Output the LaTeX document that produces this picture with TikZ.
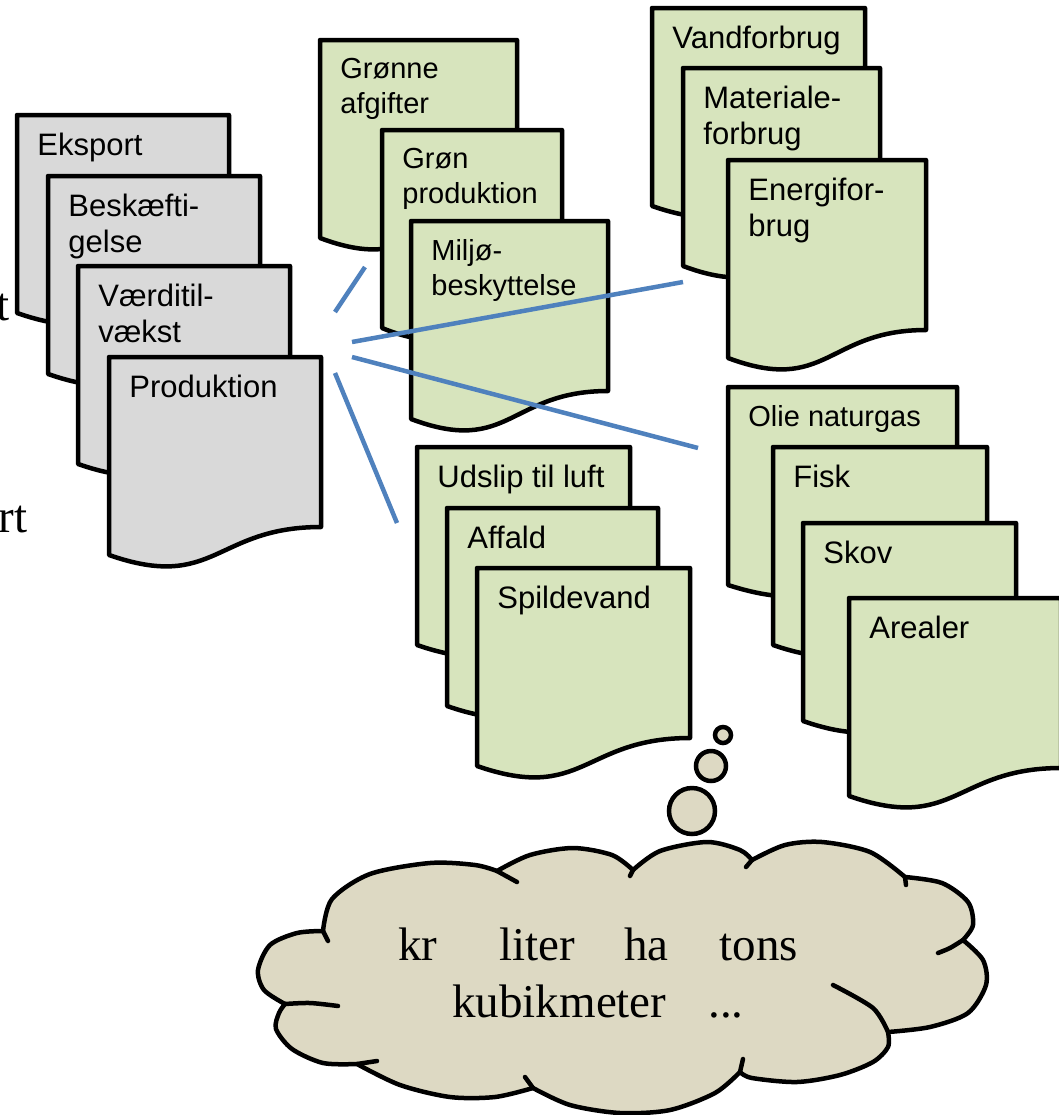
\documentclass[tikz,border=0pt]{standalone}
\usepackage{fontspec}
\setmainfont{Liberation Serif}
\setsansfont{Liberation Sans}
\definecolor{docgray}{HTML}{D9D9D9}
\definecolor{docgreen}{HTML}{D7E4BD}
\definecolor{cloudtan}{HTML}{DDD9C3}
\definecolor{linkblue}{HTML}{4F81BD}
\tikzset{
  doc/.style={draw=black,line width=2.25pt,line join=round},
  graydoc/.style={doc,fill=docgray},
  greendoc/.style={doc,fill=docgreen},
  doclabel/.style={anchor=north west,inner sep=0pt,align=left,font=\sffamily\fontsize{15.5}{18}\selectfont},
  fitlabel/.style={font=\sffamily\fontsize{14.5}{17.5}\selectfont},
  link/.style={linkblue,line width=2.25pt},
  cloudline/.style={draw=black,line width=2.25pt,line join=round,line cap=round},
  bubble/.style={draw=black,fill=cloudtan,line width=2.25pt},
  bigserif/.style={inner sep=0pt,font=\rmfamily\fontsize{23.5}{28}\selectfont}
}
% #1 label style, #2 shape style, #3 name, #4 left, #5 top, #6 width, #7 label
\newcommand{\docshape}[7][]{%
  \draw[#2] (#4,-#5) -- ({#4+#6},-#5) -- ({#4+#6},{-#5-170})
    .. controls ({#4+#6/2},{-#5-170}) and ({#4+#6/2},{-#5-235}) .. (#4,{-#5-198}) -- cycle;
  \node[doclabel,#1] (#3) at ({#4+20},{-#5-18}) {#7};}

\begin{document}
\begin{tikzpicture}[x=0.5pt,y=0.5pt]
    \useasboundingbox (0,0) rectangle (1059,-1115);
    % cut-off words at the left edge
    \node[bigserif,anchor=base east] (cutA) at (10,-320) {t};
    \node[bigserif,anchor=base east] (cutB) at (28,-532) {rt};
    % economy stack
    \foreach \nm/\x/\y/\txt in {eksport/17/115/Eksport,beskaeft/48/176/{Beskæfti-\\gelse},vaerdi/78/266/{Værditil-\\vækst},prod/109/357/Produktion}
        \docshape{graydoc}{\nm}{\x}{\y}{212}{\txt};
    % green stacks
    \foreach \nm/\x/\y/\w/\txt in {afgift/320/40/197/{Grønne\\afgifter},gronprod/382/130/180/{Grøn\\produktion},miljo/411/221/197/{Miljø-\\beskyttelse}}
        \docshape[fitlabel]{greendoc}{\nm}{\x}{\y}{\w}{\txt};
    \foreach \nm/\x/\y/\w/\txt in {vand/652/8/213/Vandforbrug,materiale/683/68/197/{Materiale-\\forbrug},energi/728/160/198/{Energifor-\\brug}}
        \docshape{greendoc}{\nm}{\x}{\y}{\w}{\txt};
    \foreach \nm/\x/\y/\w/\txt in {udslip/417/447/213/{Udslip til luft},affald/447/508/211/Affald,spilde/477/568/213/Spildevand}
        \docshape{greendoc}{\nm}{\x}{\y}{\w}{\txt};
    \docshape[fitlabel]{greendoc}{olie}{728}{387}{229}{Olie naturgas}
    \foreach \nm/\x/\y/\w/\txt in {fisk/773/447/214/Fisk,skov/803/523/213/Skov,areal/849/598/212/Arealer}
        \docshape{greendoc}{\nm}{\x}{\y}{\w}{\txt};
    % links
    \coordinate (hubA) at (335,-312); \coordinate (tipA) at (365,-267);
    \coordinate (hubB) at (352,-342); \coordinate (tipB) at (683,-282);
    \coordinate (hubC) at (352,-357); \coordinate (tipC) at (698,-448);
    \coordinate (hubD) at (335,-373); \coordinate (tipD) at (397,-523);
    \foreach \c in {A,B,C,D}
        \draw[link] (hub\c) -- (tip\c);
    % thought bubbles
    \draw[bubble] (723,-735) circle (8);
    \draw[bubble] (711,-766) circle (15);
    \draw[bubble] (692,-811) circle (23);
    % cloud
    \filldraw[cloudline,fill=cloudtan]
        plot[smooth] coordinates {(323,-931) (332,-899) (370,-874) (430,-863) (475,-865) (497,-871)}
        -- plot[smooth] coordinates {(497,-871) (530,-855) (573,-848) (612,-855) (633,-870)}
        -- plot[smooth] coordinates {(633,-870) (660,-851) (707,-842) (740,-850) (752,-860)}
        -- plot[smooth] coordinates {(752,-860) (785,-845) (822,-842) (870,-852) (905,-877)}
        -- plot[smooth] coordinates {(905,-877) (942,-883) (968,-902) (973,-925) (963,-940)}
        -- plot[smooth] coordinates {(963,-940) (983,-960) (986,-985) (968,-1013) (930,-1027) (888,-1032)}
        -- plot[smooth] coordinates {(888,-1032) (888,-1047) (873,-1062) (840,-1075) (797,-1082) (752,-1078) (740,-1072)}
        -- plot[smooth] coordinates {(740,-1072) (715,-1093) (670,-1110) (620,-1113) (570,-1105) (533,-1088)}
        -- plot[smooth] coordinates {(533,-1088) (495,-1097) (450,-1097) (400,-1085) (357,-1064)}
        -- plot[smooth] coordinates {(357,-1064) (323,-1063) (292,-1049) (276,-1029) (279,-1013) (285,-1004)}
        -- plot[smooth] coordinates {(285,-1004) (264,-990) (258,-970) (270,-945) (297,-933) (323,-931)}
        -- cycle;
    \draw[cloudline] (323,-931) -- (328,-941);
    \draw[cloudline] (497,-871) -- (517,-882);
    \draw[cloudline] (633,-870) -- (630,-876);
    \draw[cloudline] (752,-860) -- (746,-867);
    \draw[cloudline] (905,-877) -- (906,-885);
    \draw[cloudline] plot[smooth] coordinates {(963,-940) (950,-948) (938,-953)};
    \draw[cloudline] plot[smooth] coordinates {(888,-1032) (873,-1008) (833,-985)};
    \draw[cloudline] (740,-1072) -- (743,-1059);
    \draw[cloudline] (533,-1088) -- (525,-1077);
    \draw[cloudline] (357,-1064) -- (377,-1061);
    \draw[cloudline] plot[smooth] coordinates {(285,-1004) (310,-1003) (338,-1006)};
    \node[bigserif,anchor=base west] (units) at (398,-960) {kr\hspace{31pt}liter\hspace{24.5pt}ha\hspace{25.5pt}tons};
    \node[bigserif,anchor=base west] (more) at (452,-1017) {kubikmeter\hspace{21pt}...};
\end{tikzpicture}
\end{document}
